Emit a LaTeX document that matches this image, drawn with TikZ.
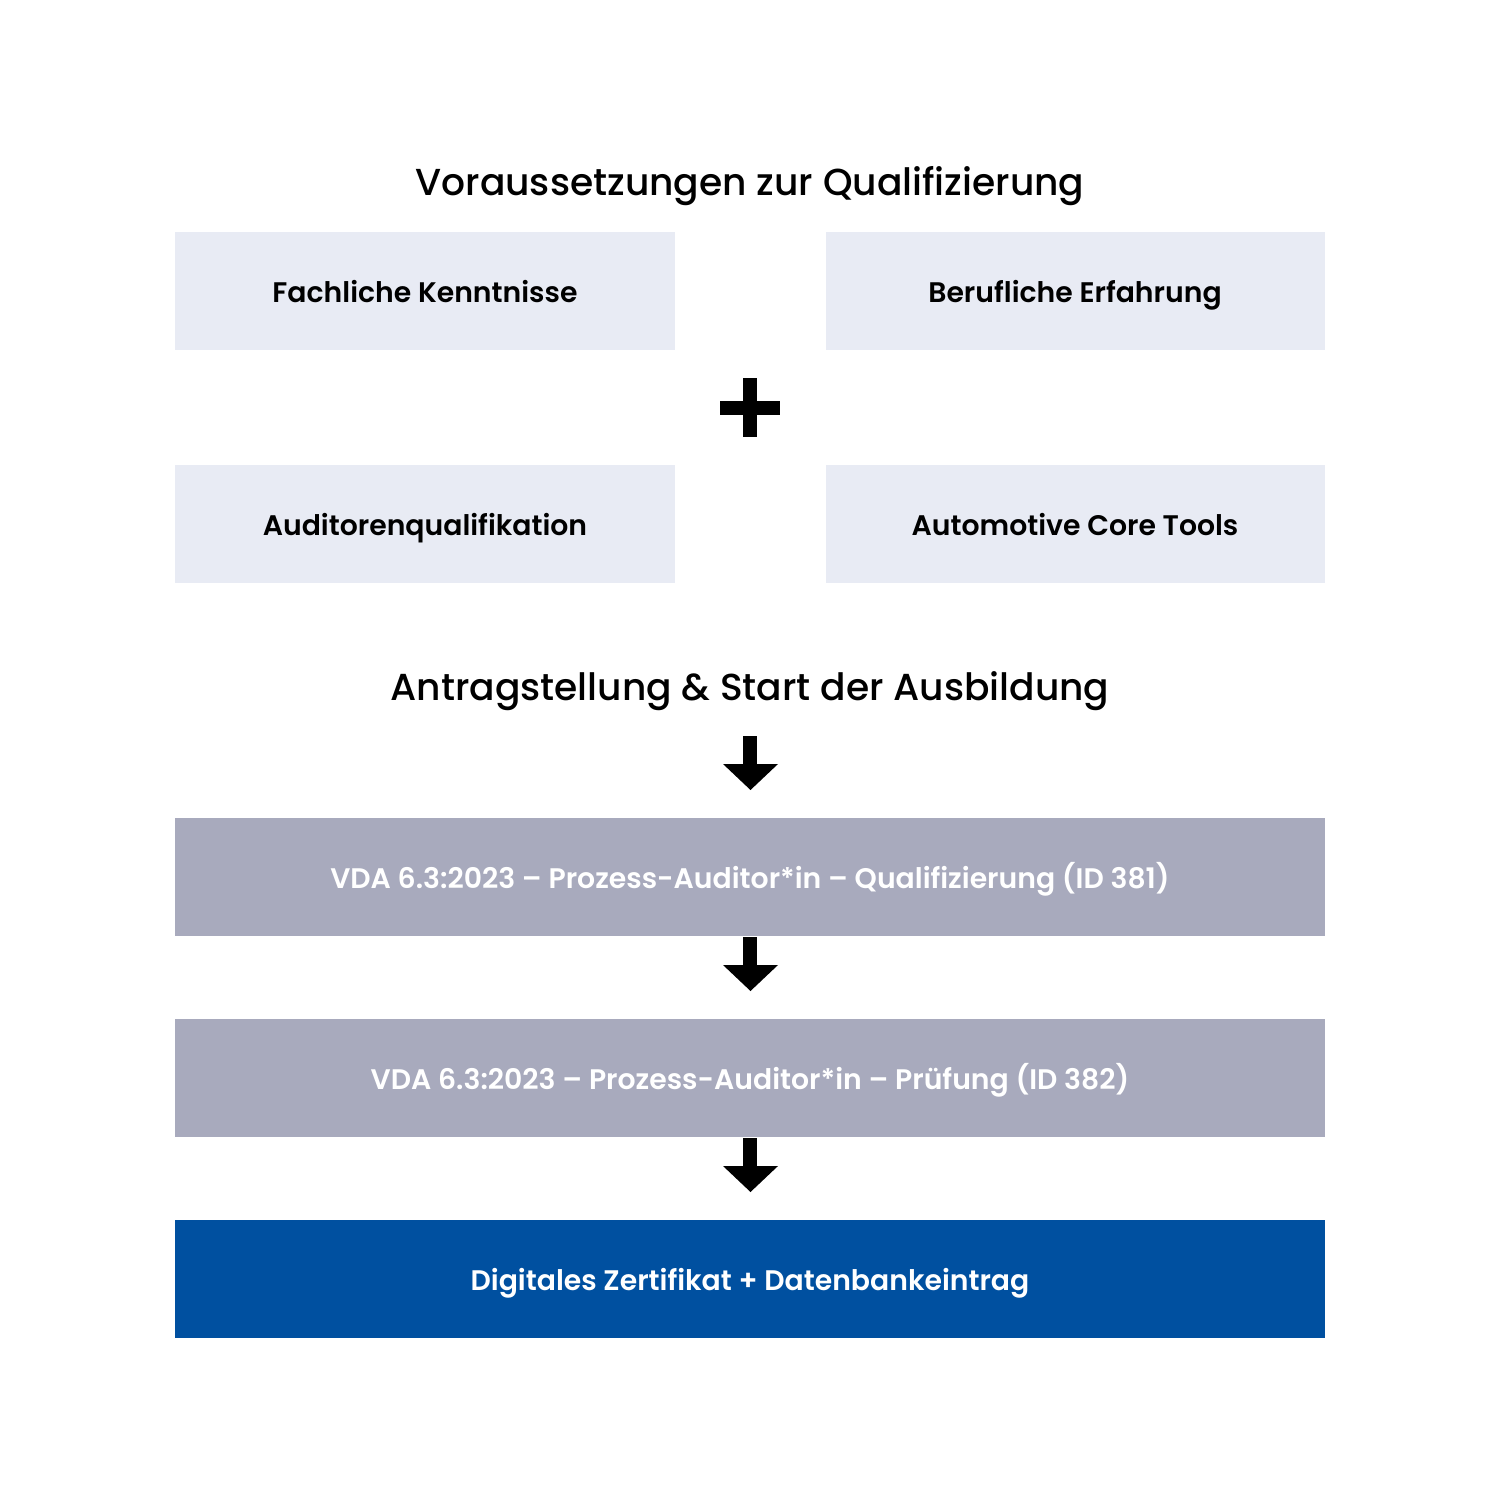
\documentclass[tikz,border=0pt]{standalone}
\usepackage{fontspec}
\setmainfont{Poppins}
\newfontfamily\semib{Poppins SemiBold}
\newfontfamily\medi{Poppins Medium}
\definecolor{lightbox}{HTML}{E8EBF4}
\definecolor{greybox}{HTML}{A8AABD}
\definecolor{bluebox}{HTML}{0050A0}
\begin{document}
\begin{tikzpicture}[x=0.1mm,y=-0.1mm,
  title/.style={font=\medi\fontsize{10.7}{13}\selectfont,text=black,inner sep=0pt,anchor=base},
  boxtext/.style={font=\semib\fontsize{8.05}{10}\selectfont,inner sep=0pt,anchor=base}]
\useasboundingbox (0,0) rectangle (1500,1500);
\fill[white] (0,0) rectangle (1500,1500);
% boxes
\fill[lightbox] (175,232) rectangle (675,350);
\fill[lightbox] (826,232) rectangle (1325,350);
\fill[lightbox] (175,465) rectangle (675,583);
\fill[lightbox] (826,465) rectangle (1325,583);
\fill[greybox] (175,818) rectangle (1325,936);
\fill[greybox] (175,1019) rectangle (1325,1137);
\fill[bluebox] (175,1220) rectangle (1325,1338);
% titles
\node[title] (t1) at (750,196) {Voraussetzungen zur Qualifizierung};
\node[title] (t2) at (750,700) {Antragstellung \& Start der Ausbildung};
% box texts
\node[boxtext] (fk) at (425,302) {Fachliche Kenntnisse};
\node[boxtext] (be) at (1075,302) {Berufliche Erfahrung};
\node[boxtext] (aq) at (425,535) {Auditorenqualifikation};
\node[boxtext] (ac) at (1075,535) {Automotive Core Tools};
\node[boxtext,text=white] (q1) at (750,888) {VDA 6.3:2023 – Prozess-Auditor*in – Qualifizierung (ID 381)};
\node[boxtext,text=white] (q2) at (750,1089) {VDA 6.3:2023 – Prozess-Auditor*in – Prüfung (ID 382)};
\node[boxtext,text=white] (q3) at (750,1290) {Digitales Zertifikat + Datenbankeintrag};
% plus
\fill[black] (743,378) rectangle (757,437);
\fill[black] (720,401) rectangle (780,415);
% arrows
\foreach \y in {736,937,1138}{
  \fill[black] (743,\y) rectangle (757,\y+29);
  \fill[black] (723,\y+28) -- (778,\y+28) -- (750.5,\y+54) -- cycle;
}
\end{tikzpicture}
\end{document}
